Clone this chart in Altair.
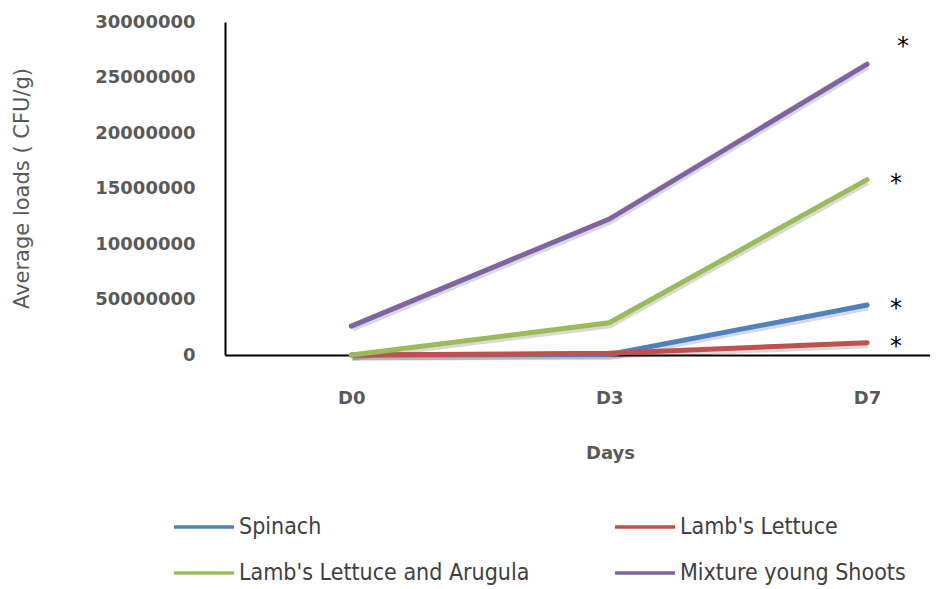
import altair as alt
import pandas as pd

days = ["D0", "D3", "D7"]
series = ["Spinach", "Lamb's Lettuce", "Lamb's Lettuce and Arugula", "Mixture young Shoots"]
colors = ["#4F81BD", "#C0504D", "#9BBB59", "#8064A2"]
spinach = [0, 50000, 4500000]
lambs_lettuce = [0, 150000, 1100000]
lambs_arugula = [0, 2900000, 15800000]
mixture = [2600000, 12250000, 26200000]
y_ticks = [0, 5000000, 10000000, 15000000, 20000000, 25000000, 30000000]
y_tick_labels = ["0", "50000000", "10000000", "15000000", "20000000", "25000000", "30000000"]
star_label = "*"

values = [spinach, lambs_lettuce, lambs_arugula, mixture]
rows = []
for s, vals in zip(series, values):
    for i, v in enumerate(vals):
        rows.append({"series": s, "day": i, "value": v})
df = pd.DataFrame(rows)

stars = pd.DataFrame({"series": series, "day": [len(days) - 1] * 4,
                      "value": [v[-1] for v in values], "label": [star_label] * 4})

day_expr = "[" + ",".join("'" + d + "'" for d in days) + "][datum.value]"
ylab_expr = "{" + ",".join("'%d':'%s'" % (t, l) for t, l in zip(y_ticks, y_tick_labels)) + "}[datum.value]"

x_enc = alt.X("day:Q", scale=alt.Scale(domain=[-0.49, 2.244], nice=False, zero=False),
              axis=alt.Axis(values=[0, 1, 2], labelExpr=day_expr, title="Days",
                            grid=False, ticks=False, labelPadding=34,
                            labelFont="DejaVu Sans", labelFontSize=18, labelFontWeight="bold",
                            labelColor="#595959",
                            titleFont="DejaVu Sans", titleFontSize=18, titleColor="#595959",
                            titleFontWeight="bold",
                            titleX=385, titleY=98, titleBaseline="middle",
                            domainColor="#000000", domainWidth=2))
y_enc = alt.Y("value:Q", scale=alt.Scale(domain=[0, 30000000], nice=False),
              axis=alt.Axis(values=y_ticks, labelExpr=ylab_expr,
                            title="Average loads ( CFU/g)", grid=False, ticks=False,
                            labelPadding=30, labelFont="DejaVu Sans", labelFontSize=18,
                            labelFontWeight="bold", labelColor="#595959",
                            titleFont="DejaVu Sans", titleFontSize=21, titleColor="#595959",
                            titleFontWeight="normal", titleX=-203, titleY=166,
                            titleBaseline="middle", titleAlign="center", titleAngle=-90,
                            domainColor="#000000", domainWidth=2))

color_scale = alt.Scale(domain=series, range=colors)

layers = []
for s in series:
    layers.append(
        alt.Chart(df).transform_filter(alt.datum.series == s)
        .mark_line(strokeWidth=5, color="#000000", opacity=0.15, xOffset=1, yOffset=3)
        .encode(x=x_enc, y=y_enc)
    )
for s in series:
    layers.append(
        alt.Chart(df).transform_filter(alt.datum.series == s)
        .mark_line(strokeWidth=5, strokeCap="round")
        .encode(x=x_enc, y=y_enc,
                color=alt.Color("series:N", scale=color_scale,
                                legend=alt.Legend(title=None, orient="none",
                                                  legendX=-53, legendY=473,
                                                  columns=2, direction="horizontal",
                                                  symbolType="stroke",
                                                  symbolSize=3600, symbolStrokeWidth=3.5,
                                                  labelFont="DejaVu Sans Condensed, Liberation Sans",
                                                  labelFontSize=23, labelColor="#404040",
                                                  labelOffset=3, labelLimit=400,
                                                  columnPadding=78, rowPadding=2,
                                                  gridAlign="all")))
    )

star_low = (alt.Chart(stars).transform_filter(alt.datum.series != series[3])
            .mark_text(fontSize=24, font="DejaVu Sans", color="#000000", dx=29, dy=4)
            .encode(x="day:Q", y="value:Q", text="label:N"))
star_high = (alt.Chart(stars).transform_filter(alt.datum.series == series[3])
             .mark_text(fontSize=24, font="DejaVu Sans", color="#000000", dx=36, dy=-17)
             .encode(x="day:Q", y="value:Q", text="label:N"))
layers += [star_low, star_high]

chart = alt.layer(*layers).properties(
    width=705, height=333,
    background="white",
    autosize=alt.AutoSizeParams(type="none"),
    padding={"left": 217, "top": 14, "right": 0, "bottom": 234},
).configure_view(stroke=None)

chart.save("out.html", embed_options={"renderer": "svg", "actions": False})
